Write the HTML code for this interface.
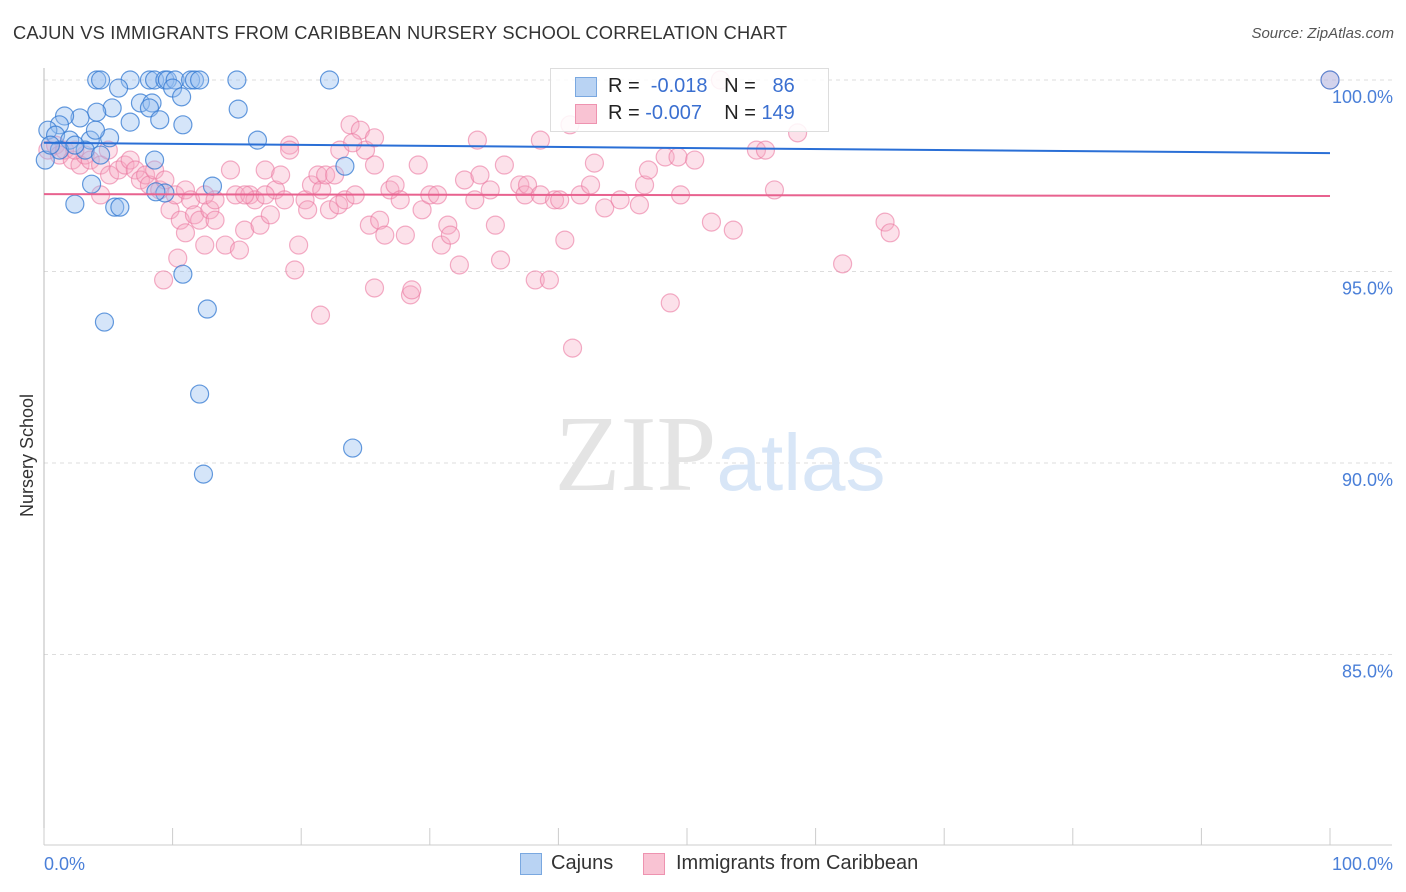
<!DOCTYPE html>
<html><head><meta charset="utf-8"><style>
body{margin:0;background:#fff;font-family:"Liberation Sans",sans-serif;}
#wrap{position:relative;width:1406px;height:892px;overflow:hidden;}
.t{position:absolute;white-space:nowrap;}
</style></head><body>
<div id="wrap">
<div class="t" style="left:13px;top:22px;font-size:18.3px;color:#333;letter-spacing:0.2px">CAJUN VS IMMIGRANTS FROM CARIBBEAN NURSERY SCHOOL CORRELATION CHART</div>
<div class="t" style="right:12px;top:25px;font-size:15px;color:#555;font-style:italic">Source: ZipAtlas.com</div>
<div class="t" style="left:-34px;top:445px;font-size:18px;color:#333;transform:rotate(-90deg)">Nursery School</div>
<svg id="svg" width="1406" height="892" style="position:absolute;left:0;top:0"></svg>
<div style="position:absolute;left:550px;top:68px;width:277px;height:62px;border:1px solid #ddd;background:rgba(255,255,255,0.85)">
<div style="position:absolute;left:24px;top:8px;width:20px;height:18px;background:#b9d3f3;border:1px solid #7aa8e0"></div>
<div style="position:absolute;left:24px;top:35px;width:20px;height:18px;background:#f9c3d3;border:1px solid #ee93b0"></div>
<div class="t" style="left:57px;top:6px;font-size:20px;color:#222">R = &nbsp;<span style="color:#3a6fd0">-0.018</span>&nbsp;&nbsp; N = &nbsp;&nbsp;<span style="color:#3a6fd0">86</span></div>
<div class="t" style="left:57px;top:33px;font-size:20px;color:#222">R = <span style="color:#3a6fd0">-0.007</span>&nbsp;&nbsp;&nbsp; N = <span style="color:#3a6fd0">149</span></div>
</div>
<div style="position:absolute;left:520px;top:853px;width:20px;height:20px;background:#b9d3f3;border:1px solid #7aa8e0"></div>
<div class="t" style="left:551px;top:852px;font-size:20px;color:#333">Cajuns</div>
<div style="position:absolute;left:643px;top:853px;width:20px;height:20px;background:#f9c3d3;border:1px solid #ee93b0"></div>
<div class="t" style="left:676px;top:852px;font-size:20px;color:#333">Immigrants from Caribbean</div>
</div>
<script>
const yTicks=[100,95,90,85];
const yTickLabels=["100.0%","95.0%","90.0%","85.0%"];
const xTickVals=[0,10,20,30,40,50,60,70,80,90,100];
const blueX=[4.1,4.4,6.7,8.2,8.6,9.4,9.6,10.2,11.4,11.7,12.1,15.0,22.2,5.8,10.0,10.7,7.5,8.4,5.3,8.2,15.1,6.7,9.0,10.8,4.1,2.8,1.6,1.2,0.3,0.9,2.0,3.6,5.1,16.6,1.2,3.2,4.4,0.1,8.6,23.4,3.7,13.1,9.4,8.7,2.4,5.5,5.9,10.8,4.7,12.7,12.1,24.0,12.4,100,0.5,2.4,4.0];
const blueY=[100,100,100,100,100,100,100,100,100,100,100,100,100,99.79,99.79,99.56,99.40,99.40,99.27,99.27,99.24,98.90,98.96,98.83,99.16,99.01,99.06,98.83,98.69,98.56,98.43,98.43,98.49,98.43,98.17,98.17,98.04,97.91,97.91,97.75,97.28,97.23,97.05,97.08,96.76,96.68,96.68,94.93,93.68,94.02,91.80,90.39,89.71,100,98.30,98.30,98.69];
const pinkX=[0.3,0.9,1.2,1.6,2.2,2.8,3.2,3.6,4.4,5.1,5.8,6.3,6.7,7.1,7.5,7.9,8.2,8.6,9.0,9.4,9.8,10.2,10.6,11.0,11.4,11.7,12.1,12.5,12.9,13.3,14.1,14.5,14.9,15.2,15.6,16.0,16.4,16.8,17.2,17.6,18.0,18.4,18.7,19.1,19.5,19.8,20.3,20.5,20.8,21.3,21.6,21.9,22.2,22.6,22.9,23.0,23.4,23.8,24.2,24.6,25.0,25.3,25.7,26.1,26.5,26.9,27.3,27.7,28.1,28.5,28.6,29.1,29.4,30.0,30.6,30.9,31.4,31.6,32.3,32.7,33.5,33.9,34.7,35.1,35.5,35.8,37.0,37.4,37.6,38.2,38.6,39.3,39.7,40.1,40.5,40.9,41.1,41.7,42.5,42.8,43.6,44.8,46.3,46.7,47.0,48.3,48.7,49.3,49.5,50.6,51.9,53.6,55.4,56.1,56.8,58.6,62.1,65.4,65.8,100,52.6,38.6,33.7,25.7,24.0,19.1,17.2,21.5,25.7,12.5,11.0,9.3,10.4,4.4,13.3,15.6,5.0,2.4];
const pinkY=[98.17,98.30,98.04,98.17,97.91,97.78,98.04,97.91,97.78,97.52,97.65,97.78,97.91,97.65,97.39,97.52,97.26,97.65,97.13,97.39,96.61,97.00,96.34,97.13,96.87,96.48,96.34,95.69,96.61,96.34,95.69,97.65,97.00,95.56,96.08,97.00,96.87,96.21,97.65,96.48,97.13,97.52,96.87,98.30,95.04,95.69,96.87,96.61,97.26,97.52,97.13,97.52,96.61,97.52,96.74,98.17,96.87,98.83,97.00,98.69,98.17,96.21,97.78,96.34,95.95,97.13,97.26,96.87,95.95,94.39,94.52,97.78,96.61,97.00,97.00,95.69,96.21,95.95,95.17,97.39,96.87,97.52,97.13,96.21,95.30,97.78,97.26,97.00,97.26,94.78,97.00,94.78,96.87,96.87,95.82,98.83,93.00,97.00,97.26,97.83,96.66,96.87,96.74,97.26,97.65,97.99,94.18,97.99,97.00,97.91,96.29,96.08,98.17,98.17,97.13,98.62,95.20,96.29,96.01,100,100,98.43,98.43,98.49,98.36,98.17,97.00,93.86,94.57,97.00,96.01,94.78,95.35,97.00,96.87,97.00,98.17,98.17];
const blueTrend=[98.36,98.09];
const pinkTrend=[97.02,96.97];
const X0=44,X1=1330,YT=80,YB=845;
function xs(v){return X0+(X1-X0)*v/100;}
function ys(v){return YT+(100-v)*38.3;}
const svg=document.getElementById('svg');
const NS='http://www.w3.org/2000/svg';
function mk(t,a){const e=document.createElementNS(NS,t);for(const k in a)e.setAttribute(k,a[k]);svg.appendChild(e);return e;}
yTicks.forEach((v,i)=>{
 const l=mk('line',{x1:X0,x2:1392,y1:ys(v),y2:ys(v),stroke:'#ddd','stroke-dasharray':'4,4'});
 
 
 const t=mk('text',{x:1393,y:ys(v)+23,'text-anchor':'end','font-size':18,fill:'#4a7fd8','font-family':'Liberation Sans, sans-serif'});
 t.textContent=yTickLabels[i];
 
 
});
const ax=mk('line',{x1:X0,x2:X0,y1:68,y2:YB,stroke:'#bbb'});


const bx=mk('line',{x1:X0,x2:1392,y1:YB,y2:YB,stroke:'#ccc'});


xTickVals.forEach(v=>{
 const l=mk('line',{x1:xs(v),x2:xs(v),y1:828,y2:YB,stroke:'#ccc'});
 
 
});
[[0,'0.0%','start',44],[100,'100.0%','end',1393]].forEach(a=>{
 const t=mk('text',{x:a[3],y:870,'text-anchor':a[2],'font-size':18,fill:'#4a7fd8','font-family':'Liberation Sans, sans-serif'});
 t.textContent=a[1];
 
 
});
const wm=mk('text',{x:720,y:490,'text-anchor':'middle','font-size':108,'font-family':'Liberation Serif, serif',fill:'#e4e4e4'});
wm.innerHTML='ZIP<tspan fill="#d8e6f7" font-family="Liberation Sans, sans-serif" font-size="80">atlas</tspan>';


pinkX.forEach((v,i)=>{
 const c=mk('circle',{cx:xs(v),cy:ys(pinkY[i]),r:9,fill:'rgba(247,170,195,0.35)',stroke:'rgba(235,120,160,0.6)','stroke-width':1.2});
 
 
});
blueX.forEach((v,i)=>{
 const c=mk('circle',{cx:xs(v),cy:ys(blueY[i]),r:9,fill:'rgba(150,190,240,0.4)',stroke:'rgba(50,120,210,0.75)','stroke-width':1.2});
 
 
});
const bt=mk('line',{x1:xs(0),x2:xs(100),y1:ys(blueTrend[0]),y2:ys(blueTrend[1]),stroke:'#2a6fd6','stroke-width':2});


const pt=mk('line',{x1:xs(0),x2:xs(100),y1:ys(pinkTrend[0]),y2:ys(pinkTrend[1]),stroke:'#e8628f','stroke-width':2});


</script>
</body></html>
